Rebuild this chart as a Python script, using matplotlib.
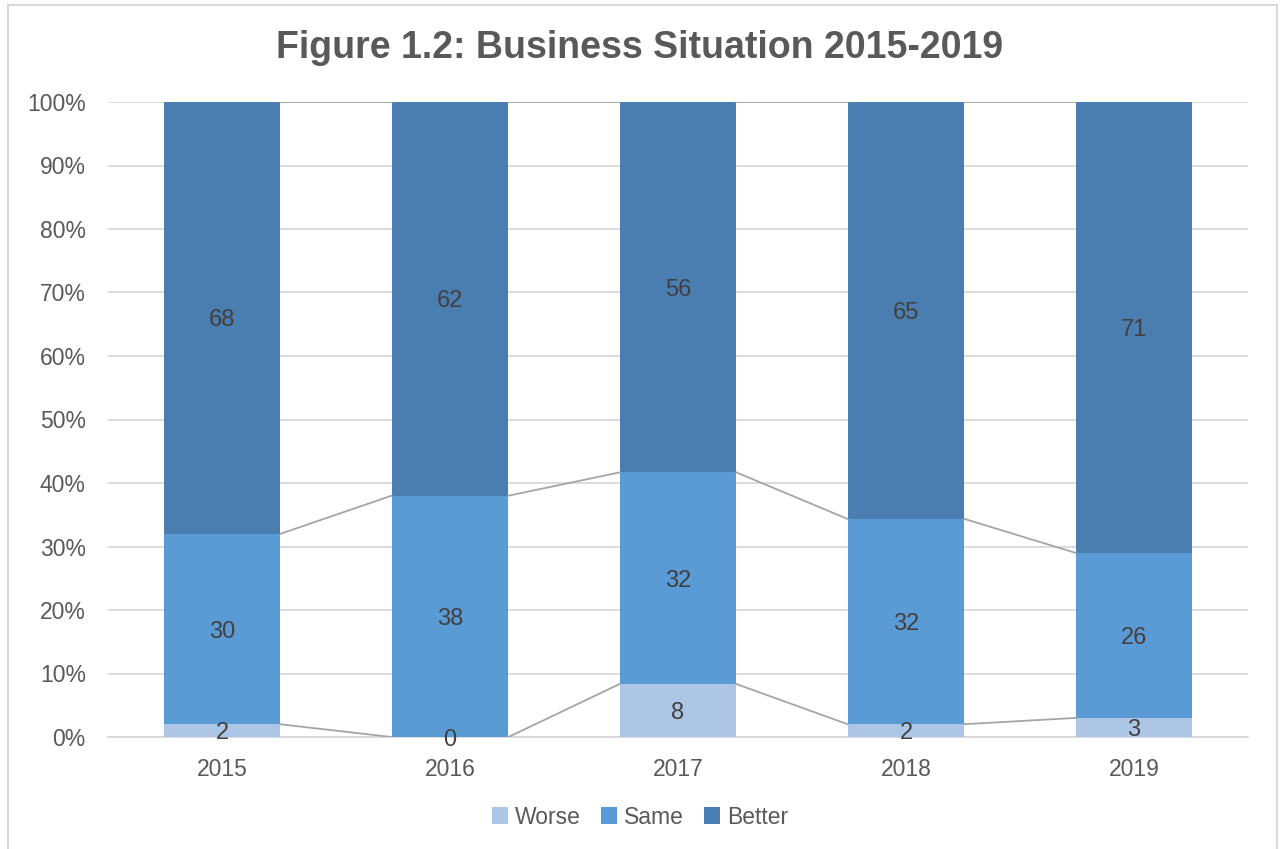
import matplotlib
matplotlib.use("Agg")
import matplotlib.pyplot as plt
import numpy as np
from matplotlib.patches import Rectangle, Patch

years = ["2015", "2016", "2017", "2018", "2019"]
worse = [2, 0, 8, 2, 3]
same = [30, 38, 32, 32, 26]
better = [68, 62, 56, 65, 71]
series_names = ["Worse", "Same", "Better"]
colors = ["#ADC6E5", "#5B9BD5", "#4A7EB0"]

plt.rcParams['font.family'] = ['Liberation Sans', 'DejaVu Sans']

fig = plt.figure(figsize=(12.8, 8.49), dpi=100)
fig.patches.append(Rectangle((8/1280, -0.01), (1277-8)/1280, 1 - 5/849 + 0.01,
                             transform=fig.transFigure, fill=False,
                             edgecolor="#D9D9D9", linewidth=1.5))
ax = fig.add_axes([108/1280, 1-737/849, (1248-108)/1280, (737-102)/849])

data = np.array([worse, same, better], dtype=float)
totals = data.sum(axis=0)
pct = data / totals * 100
x = np.arange(len(years))
w = 0.513

bottom = np.zeros(len(years))
tops = []
for i, name in enumerate(series_names):
    ax.bar(x, pct[i], w, bottom=bottom, color=colors[i], zorder=3, label=name)
    for j in range(len(years)):
        ax.text(x[j], bottom[j] + pct[i][j] / 2, f"{int(data[i][j])}",
                ha="center", va="center_baseline", fontsize=17, color="#404040", zorder=5)
    bottom = bottom + pct[i]
    tops.append(bottom.copy())

# series lines
for t in tops:
    for j in range(len(years) - 1):
        ax.plot([x[j] + w/2, x[j+1] - w/2], [t[j], t[j+1]],
                color="#A5A5A5", linewidth=1.3, zorder=4)

ax.set_xlim(-0.5, len(years) - 0.5)
ax.set_ylim(0, 100)
ax.set_yticks(np.arange(0, 101, 10))
ax.set_yticklabels([f"{v}%" for v in range(0, 101, 10)])
ax.set_xticks(x)
ax.set_xticklabels(years)
ax.tick_params(axis="both", length=0, labelsize=16.5, labelcolor="#595959")
ax.tick_params(axis="y", pad=16)
ax.tick_params(axis="x", pad=15)
ax.grid(axis="y", color="#D9D9D9", linewidth=1.3, zorder=0)
ax.set_axisbelow(True)
for s in ["top", "right", "left"]:
    ax.spines[s].set_visible(False)
ax.spines["bottom"].set_color("#D9D9D9")
ax.spines["bottom"].set_linewidth(1.3)

fig.text(0.5, 1 - 48/849, "Figure 1.2: Business Situation 2015-2019",
         ha="center", va="center", fontsize=27, fontweight="bold", color="#595959")

handles = [Patch(facecolor=c, edgecolor="none") for c in colors]
fig.legend(handles, series_names, loc="center", bbox_to_anchor=(0.5, 1 - 817/849),
           ncol=3, frameon=False, fontsize=16.5, handlelength=0.7, handleheight=0.7,
           handletextpad=0.3, columnspacing=0.9, labelcolor="#595959")

fig.savefig("out.png", dpi=100)
